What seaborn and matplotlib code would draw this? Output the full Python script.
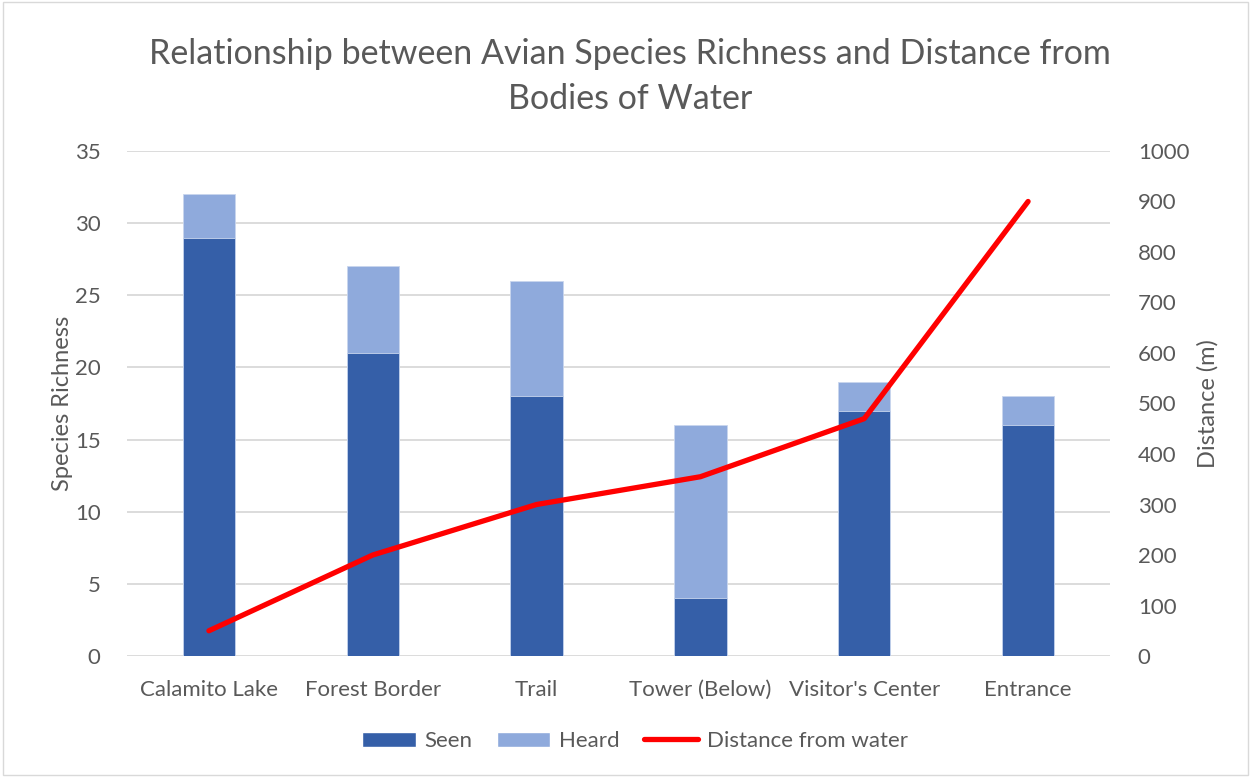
import matplotlib
matplotlib.use("Agg")
import matplotlib.pyplot as plt
import seaborn as sns
import pandas as pd
import numpy as np
from matplotlib.patches import Patch
from matplotlib.lines import Line2D

categories = ["Calamito Lake", "Forest Border", "Trail", "Tower (Below)", "Visitor's Center", "Entrance"]
seen = [29, 21, 18, 4, 17, 16]
heard = [3, 6, 8, 12, 2, 2]
distance = [50, 200, 300, 355, 470, 900]

SEEN_C = "#355FA8"
HEARD_C = "#8FAADC"
LINE_C = "#FF0000"
TXT = "#595959"
GRID = "#D9D9D9"

sns.set_theme(style="white")
plt.rcParams["font.family"] = ["Lato", "DejaVu Sans"]

df = pd.DataFrame({"site": categories, "seen": seen, "heard": heard})
df["total"] = df["seen"] + df["heard"]

fig = plt.figure(figsize=(12.5, 7.77), dpi=100)
ax = fig.add_axes([0.1016, 0.1557, 0.7864, 0.65])

sns.barplot(data=df, x="site", y="total", color=HEARD_C, width=0.32, ax=ax,
            saturation=1, edgecolor="#C9D6EE", linewidth=0.6, zorder=2)
sns.barplot(data=df, x="site", y="seen", color=SEEN_C, width=0.32, ax=ax,
            saturation=1, edgecolor="#C9D6EE", linewidth=0.6, zorder=3)

ax.set_ylim(0, 35)
ax.set_yticks(np.arange(0, 36, 5))
ax.set_xlim(-0.5, len(categories) - 0.5)
ax.yaxis.grid(True, color=GRID, linewidth=1.3, zorder=0)
ax.set_axisbelow(True)
for s in ax.spines.values():
    s.set_visible(False)
ax.set_xlabel("")
ax.set_ylabel("Species Richness", color=TXT, fontsize=17)
ax.tick_params(axis="both", colors=TXT, labelsize=16, length=0)
ax.tick_params(axis="x", pad=17)
ax.tick_params(axis="y", pad=19)
ax.yaxis.set_label_coords(-0.055, 0.5)

ax2 = ax.twinx()
sns.lineplot(x=np.arange(len(categories)), y=distance, ax=ax2, color=LINE_C,
             linewidth=3.8, zorder=5)
ax2.set_ylim(0, 1000)
ax2.set_yticks(np.arange(0, 1001, 100))
for s in ax2.spines.values():
    s.set_visible(False)
ax2.set_ylabel("Distance (m)", color=TXT, fontsize=17)
ax2.tick_params(axis="y", colors=TXT, labelsize=16, length=0, pad=20)
ax2.yaxis.set_label_coords(1.089, 0.5)
ax2.grid(False)

fig.text(0.504, 0.931, "Relationship between Avian Species Richness and Distance from",
         ha="center", va="center", fontsize=24.5, color=TXT)
fig.text(0.504, 0.873, "Bodies of Water", ha="center", va="center", fontsize=24.5, color=TXT)

handles = [Patch(facecolor=SEEN_C, label="Seen"),
           Patch(facecolor=HEARD_C, label="Heard"),
           Line2D([0], [0], color=LINE_C, linewidth=3.8, label="Distance from water")]
fig.legend(handles=handles, loc="center", bbox_to_anchor=(0.508, 0.046), ncol=3,
           frameon=False, fontsize=16, labelcolor=TXT, handlelength=2.4,
           handleheight=0.7, columnspacing=1.1, handletextpad=0.4)

border = plt.Rectangle((0.002, 0.002), 0.996, 0.996, transform=fig.transFigure,
                       fill=False, edgecolor="#D9D9D9", linewidth=1)
fig.patches.append(border)

fig.savefig("out.png", dpi=100, facecolor="white")
